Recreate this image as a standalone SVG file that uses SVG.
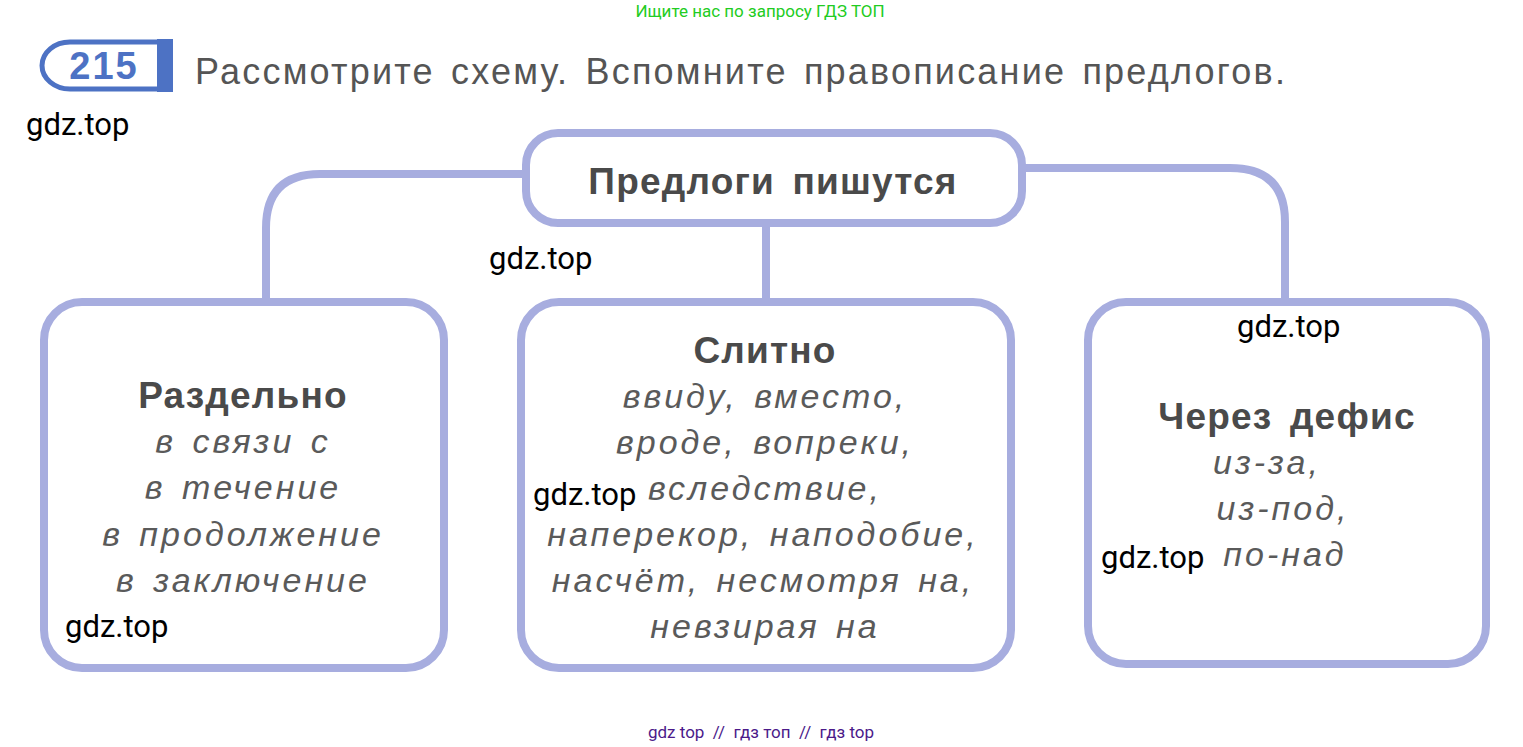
<svg xmlns="http://www.w3.org/2000/svg" width="1523" height="747" viewBox="0 0 1523 747">
<style>
.box{fill:#fff;stroke:#a7addf;stroke-width:8}
.ln{fill:none;stroke:#a7addf;stroke-width:8}
.h{font-family:"Liberation Sans",Arial,sans-serif;font-weight:bold;font-size:37px;fill:#4a4a4a;text-anchor:middle;letter-spacing:1.2px;word-spacing:6px}
.i{font-family:"Liberation Sans",Arial,sans-serif;font-style:italic;font-size:34px;fill:#5a5a5a;text-anchor:middle;letter-spacing:3px;word-spacing:4px}
.w{font-family:Roboto,"Liberation Sans",sans-serif;font-size:31px;fill:#000}
</style>
<rect width="1523" height="747" fill="#fff"/>
<text x="760" y="17" font-family="Roboto,'Liberation Sans',sans-serif" font-size="17" fill="#22cc22" text-anchor="middle">Ищите нас по запросу ГДЗ ТОП</text>
<g id="badge">
<path d="M70 42 H160 V89 H70 A28 23.5 0 0 1 70 42 Z" fill="#fff" stroke="#4d72c4" stroke-width="5"/>
<rect x="157" y="39" width="16" height="53" fill="#4d72c4"/>
<text x="104" y="79" font-family="'Liberation Sans',Arial,sans-serif" font-weight="bold" font-size="38" fill="#4d72c4" text-anchor="middle" letter-spacing="2">215</text>
</g>
<text x="195" y="84" font-family="'Liberation Sans',Arial,sans-serif" font-size="36" fill="#555" letter-spacing="2.2" word-spacing="4">Рассмотрите схему. Вспомните правописание предлогов.</text>
<g id="connectors">
<path class="ln" d="M528 174 H320 Q266 174 266 228 V302"/>
<path class="ln" d="M1021 168 H1230 Q1285 168 1285 222 V302"/>
<path class="ln" d="M766 224 V302"/>
</g>
<g id="root"><rect class="box" x="526" y="133" width="496" height="90" rx="32"/>
<text class="h" x="773" y="194">Предлоги пишутся</text></g>
<g id="left"><rect class="box" x="44" y="302" width="400" height="366" rx="38"/>
<text class="h" x="243" y="408">Раздельно</text>
<text class="i" x="243" y="453">в связи с</text>
<text class="i" x="243" y="499">в течение</text>
<text class="i" x="243" y="546">в продолжение</text>
<text class="i" x="243" y="592">в заключение</text></g>
<g id="mid"><rect class="box" x="521" y="302" width="490" height="366" rx="38"/>
<text class="h" x="765" y="363">Слитно</text>
<text class="i" x="765" y="408">ввиду, вместо,</text>
<text class="i" x="765" y="454">вроде, вопреки,</text>
<text class="i" x="765" y="500">вследствие,</text>
<text class="i" x="763" y="546">наперекор, наподобие,</text>
<text class="i" x="763" y="592">насчёт, несмотря на,</text>
<text class="i" x="765" y="638">невзирая на</text></g>
<g id="right"><rect class="box" x="1088" y="302" width="398" height="362" rx="38"/>
<text class="h" x="1287" y="429">Через дефис</text>
<text class="i" x="1267" y="474">из-за,</text>
<text class="i" x="1283" y="520">из-под,</text>
<text class="i" x="1285" y="566">по-над</text></g>
<g id="wm">
<text class="w" x="26" y="135">gdz.top</text>
<text class="w" x="489" y="269">gdz.top</text>
<text class="w" x="1237" y="337">gdz.top</text>
<text class="w" x="533" y="505">gdz.top</text>
<text class="w" x="1101" y="568">gdz.top</text>
<text class="w" x="65" y="637">gdz.top</text>
</g>
<text x="761" y="738" font-family="Roboto,'Liberation Sans',sans-serif" font-size="17" fill="#4b1a8a" text-anchor="middle" xml:space="preserve">gdz top  //  гдз топ  //  гдз top</text>
</svg>
